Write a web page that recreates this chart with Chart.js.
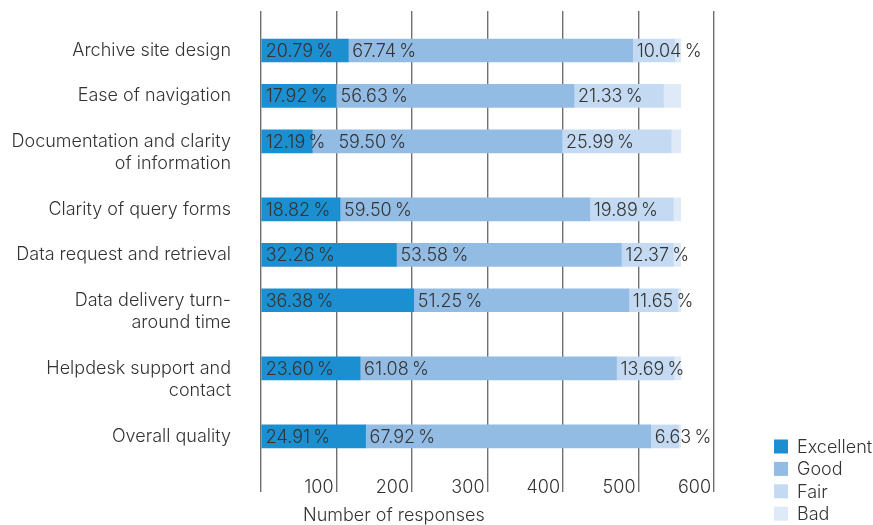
<!DOCTYPE html>
<html>
<head>
<meta charset="utf-8">
<script src="https://cdn.jsdelivr.net/npm/chart.js@4"></script>
<style>
  body { margin: 0; background: #fff; }
  #wrap { width: 873px; height: 525px; }
</style>
</head>
<body>
<div id="wrap"><canvas id="myChart" width="873" height="525"></canvas></div>
<script>
// survey categories, each split into the lines it is printed on
const categories = [
  ["Archive site design"],
  ["Ease of navigation"],
  ["Documentation and clarity", "of information"],
  ["Clarity of query forms"],
  ["Data request and retrieval"],
  ["Data delivery turn-", "around time"],
  ["Helpdesk support and", "contact"],
  ["Overall quality"],
];

// share of answers in percent
const excellent = [20.79, 17.92, 12.19, 18.82, 32.26, 36.38, 23.60, 24.91];
const good = [67.74, 56.63, 59.50, 59.50, 53.58, 51.25, 61.08, 67.92];
const fair = [10.04, 21.33, 25.99, 19.89, 12.37, 11.65, 13.69, 6.63];
const bad = [1.43, 4.12, 2.32, 1.79, 1.79, 0.72, 1.63, 0.54];

const totalResponses = 556;
const xTicks = [0, 100, 200, 300, 400, 500, 600];

const FONT = "Inter, 'Liberation Sans', Arial, sans-serif";
const FONT_SIZE = 18;
const WEIGHT = 300;
const TEXT = "#333333";

// every row takes one slot per text line plus one empty slot below it
let rowPos = [];
let lineAt = {};
let p = 0;
categories.forEach((lines) => {
  rowPos.push(p);
  lines.forEach((l, j) => (lineAt[p + j] = l));
  p += lines.length + 1;
});

function toPoints(pcts) {
  return pcts.map((v, i) => ({ x: (v / 100) * totalResponses, y: rowPos[i], pct: v }));
}

const series = [
  { label: "Excellent", values: excellent, color: "#1b8fcf", showValue: true },
  { label: "Good", values: good, color: "#93bce5", showValue: true },
  { label: "Fair", values: fair, color: "#c4daf2", showValue: true },
  { label: "Bad", values: bad, color: "#deeaf8", showValue: false },
];

// percentage text at the start of each segment, pushed right if the
// previous label in the row would run into it
const segmentLabels = {
  id: "segmentLabels",
  afterDatasetsDraw(chart) {
    const ctx = chart.ctx;
    ctx.save();
    ctx.font = WEIGHT + " " + FONT_SIZE + "px " + FONT;
    ctx.fillStyle = TEXT;
    ctx.textAlign = "left";
    ctx.textBaseline = "middle";
    const rowEnd = {};
    chart.data.datasets.forEach((ds, d) => {
      if (!series[d].showValue) return;
      chart.getDatasetMeta(d).data.forEach((bar, i) => {
        const txt = ds.data[i].pct.toFixed(2) + "\u2009%";
        let x = Math.min(bar.base, bar.x) + 4;
        if (rowEnd[i] !== undefined) x = Math.max(x, rowEnd[i] + 13);
        ctx.fillText(txt, x, bar.y + 1);
        rowEnd[i] = x + ctx.measureText(txt).width;
      });
    });
    ctx.restore();
  },
};

// legend bottom right and the axis caption
const extras = {
  id: "extras",
  afterDraw(chart) {
    const ctx = chart.ctx;
    ctx.save();
    ctx.font = WEIGHT + " " + FONT_SIZE + "px " + FONT;
    ctx.textBaseline = "middle";
    ctx.textAlign = "left";
    chart.data.datasets.forEach((ds, i) => {
      const y = 446.5 + i * 22.4;
      ctx.fillStyle = ds.backgroundColor;
      ctx.fillRect(774, y - 7, 14, 14);
      ctx.fillStyle = TEXT;
      ctx.fillText(ds.label, 797, y + 1);
    });
    ctx.fillText("Number of responses", 303, 516);
    ctx.restore();
  },
};

const ctx = document.getElementById("myChart").getContext("2d");
const chart = new Chart(ctx, {
  type: "bar",
  data: {
    datasets: series.map((s) => ({
      label: s.label,
      data: toPoints(s.values),
      backgroundColor: s.color,
      borderWidth: 0,
      barThickness: 23,
    })),
  },
  options: {
    responsive: false,
    animation: false,
    indexAxis: "y",
    layout: { padding: { top: 11, right: 159, bottom: 0, left: 0 } },
    plugins: { legend: { display: false }, tooltip: { enabled: false } },
    scales: {
      x: {
        type: "linear",
        stacked: true,
        min: 0,
        max: 600,
        border: { display: false },
        // grid lines run on below the plot as long tick marks
        grid: { color: "#707070", lineWidth: 1.4, drawTicks: true, tickLength: 17 },
        afterBuildTicks: (scale) => {
          scale.ticks = xTicks.map((v) => ({ value: v }));
        },
        afterFit: (scale) => {
          scale.height = 50;
          scale.paddingLeft = 0;
          scale.paddingRight = 0;
        },
        ticks: {
          align: "end",
          labelOffset: -3,
          padding: -15,
          maxRotation: 0,
          color: TEXT,
          font: { size: FONT_SIZE, family: FONT, weight: WEIGHT },
          callback: (v) => (v === 0 ? "" : String(v)),
        },
      },
      y: {
        type: "linear",
        reverse: true,
        stacked: true,
        offset: false,
        min: -1.74,
        max: 18.70,
        border: { display: false },
        grid: { display: false, drawTicks: false, offset: false },
        afterBuildTicks: (scale) => {
          scale.ticks = Object.keys(lineAt).map((k) => ({ value: Number(k) }));
        },
        afterFit: (scale) => {
          scale.width = 261;
          scale.paddingTop = 0;
          scale.paddingBottom = 0;
        },
        ticks: {
          autoSkip: false,
          padding: 30,
          color: TEXT,
          font: { size: FONT_SIZE, family: FONT, weight: WEIGHT },
          callback: (v) => lineAt[v] || "",
        },
      },
    },
  },
  plugins: [segmentLabels, extras],
});
</script>
</body>
</html>
